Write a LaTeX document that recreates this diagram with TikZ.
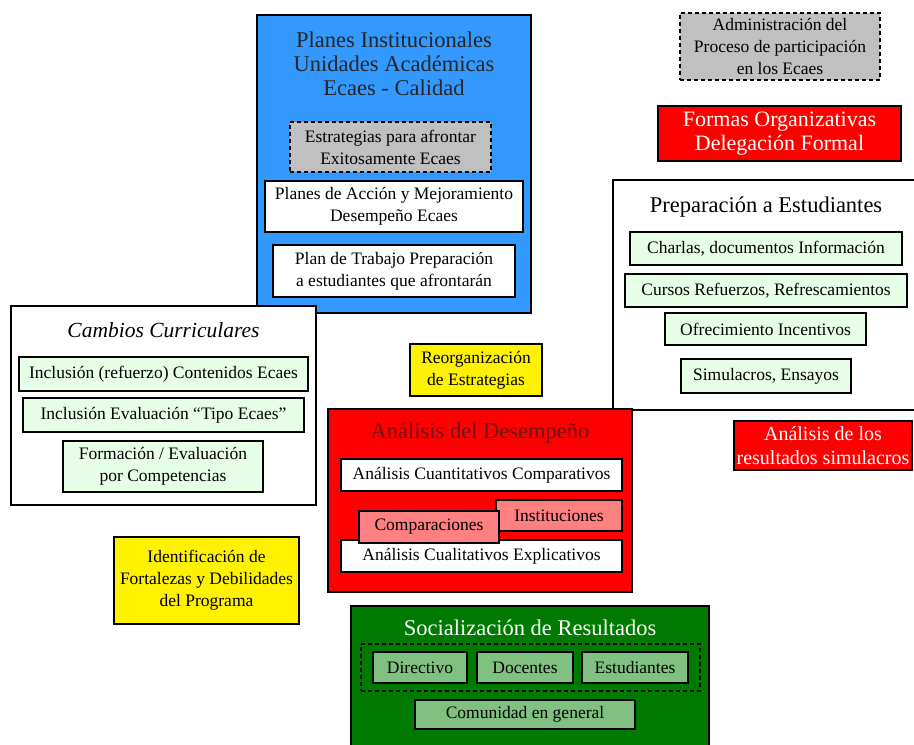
\documentclass[tikz,border=0pt]{standalone}
\usepackage{fontspec}
\setmainfont{Liberation Serif}
\usepackage{tikz}
\usetikzlibrary{positioning}

\definecolor{planblue}{RGB}{51,153,255}
\definecolor{stratgray}{RGB}{192,192,192}
\definecolor{palegreen}{RGB}{230,255,230}
\definecolor{salmon}{RGB}{255,128,128}
\definecolor{darkgreen}{RGB}{0,122,0}
\definecolor{midgreen}{RGB}{128,192,128}
\definecolor{titlered}{RGB}{110,20,20}

\newcommand{\txt}{\fontsize{17.5}{22}\selectfont}
\newcommand{\ttl}{\fontsize{22.5}{24}\selectfont}

\begin{document}
\begin{tikzpicture}[x=1pt, y=-1pt, line join=miter,
		box/.style={draw=black, line width=2pt, inner sep=0pt, align=center, font=\txt},
		frame/.style={box, fill=white},
		tag/.style={box, fill=palegreen},
		dashbox/.style={box, fill=stratgray, dash pattern=on 4pt off 3pt},
		alert/.style={box, fill=red, text=white, font=\fontsize{20}{24}\selectfont},
		note/.style={box, fill=yellow},
		pinkbox/.style={box, fill=salmon},
		folk/.style={box, fill=midgreen},
		heading/.style={inner sep=0pt, align=center, font=\ttl}]
		\useasboundingbox (0,0) rectangle (914,745);
		\clip (0,0) rectangle (914,745);
		
		% planes institucionales
		\node[box, fill=planblue, minimum width=274, minimum height=298] (planes) at (394,164) {};
		\node[heading, text=black!85] (planesT) at (394,64) {Planes Institucionales\\Unidades Académicas\\Ecaes - Calidad};
		\node[dashbox, minimum width=201, minimum height=50] (strat) at (390.5,147) {Estrategias para afrontar\\Exitosamente Ecaes};
		\node[frame, minimum width=258, minimum height=51] (accion) at (394,206.5) {Planes de Acción y Mejoramiento\\Desempeño Ecaes};
		\node[frame, minimum width=242, minimum height=52] (trabajo) at (394,271) {Plan de Trabajo Preparación\\a estudiantes que afrontarán};
		
		% cambios curriculares
		\node[frame, minimum width=305, minimum height=199] (cambios) at (163.5,405.5) {};
		\node[heading, font=\fontsize{21.5}{24}\selectfont\itshape] (cambiosT) at (163.5,330) {Cambios Curriculares};
		\node[tag, minimum width=289, minimum height=34] (contenidos) at (163.5,374) {Inclusión (refuerzo) Contenidos Ecaes};
		\node[tag, minimum width=281, minimum height=34] (evaluacion) at (163.5,415) {Inclusión Evaluación “Tipo Ecaes”};
		\node[tag, minimum width=200, minimum height=51] (competencias) at (163,466.5) {Formación / Evaluación\\por Competencias};
		
		\node[note, minimum width=185, minimum height=87] (fortalezas) at (206.5,580.5) {Identificación de\\Fortalezas y Debilidades\\del Programa};
		\node[note, minimum width=132, minimum height=52] (reorg) at (476,370) {Reorganización\\de Estrategias};
		
		% administracion y formas organizativas
		\node[dashbox, minimum width=200, minimum height=67] (admin) at (780,46.5) {Administración del\\Proceso de participación\\en los Ecaes};
		\node[alert, font=\fontsize{22}{24}\selectfont, minimum width=243, minimum height=55] (formas) at (779.5,133.5) {Formas Organizativas\\Delegación Formal};
		
		% preparacion a estudiantes
		\node[frame, minimum width=317, minimum height=230] (prep) at (771.5,295) {};
		\node[heading] (prepT) at (766,207) {Preparación a Estudiantes};
		\node[tag, minimum width=272, minimum height=33] (charlas) at (766,248.5) {Charlas, documentos Información};
		\node[tag, minimum width=282, minimum height=33] (cursos) at (766,290.5) {Cursos Refuerzos, Refrescamientos};
		\node[tag, minimum width=201, minimum height=32] (incentivos) at (765.5,329) {Ofrecimiento Incentivos};
		\node[tag, minimum width=170, minimum height=34] (simulacros) at (766,376) {Simulacros, Ensayos};
		\node[alert, minimum width=178, minimum height=49] (resultados) at (823,445.5) {Análisis de los\\resultados simulacros};
		
		% analisis del desempeno
		\node[box, fill=red, minimum width=304, minimum height=183] (desempeno) at (480,500.5) {};
		\node[heading, text=titlered] (desempenoT) at (480,433) {Análisis del Desempeño};
		\node[frame, minimum width=281, minimum height=32] (cuanti) at (481.5,475) {Análisis Cuantitativos Comparativos};
		\node[frame, minimum width=281, minimum height=32] (cuali) at (481.5,556) {Análisis Cualitativos Explicativos};
		\node[pinkbox, minimum width=126, minimum height=31] (instituciones) at (559,515.5) {Instituciones};
		\node[pinkbox, minimum width=140, minimum height=32] (comparaciones) at (429,527) {Comparaciones};
		
		% socializacion de resultados
		\node[box, fill=darkgreen, minimum width=358, minimum height=154] (social) at (530,683) {};
		\node[heading, text=white] (socialT) at (530,628) {Socialización de Resultados};
		\node[draw=black, line width=2pt, dash pattern=on 4pt off 3pt, minimum width=339, minimum height=47, inner sep=0pt] (grupo) at (530.5,667.5) {};
		\node[folk, minimum width=94, minimum height=31] (directivo) at (420,667.5) {Directivo};
		\node[folk, minimum width=96, minimum height=31] (docentes) at (525,667.5) {Docentes};
		\node[folk, minimum width=106, minimum height=31] (estudiantes) at (635,667.5) {Estudiantes};
		\node[folk, minimum width=220, minimum height=29] (comunidad) at (525,714.5) {Comunidad en general};
	\end{tikzpicture}
\end{document}
